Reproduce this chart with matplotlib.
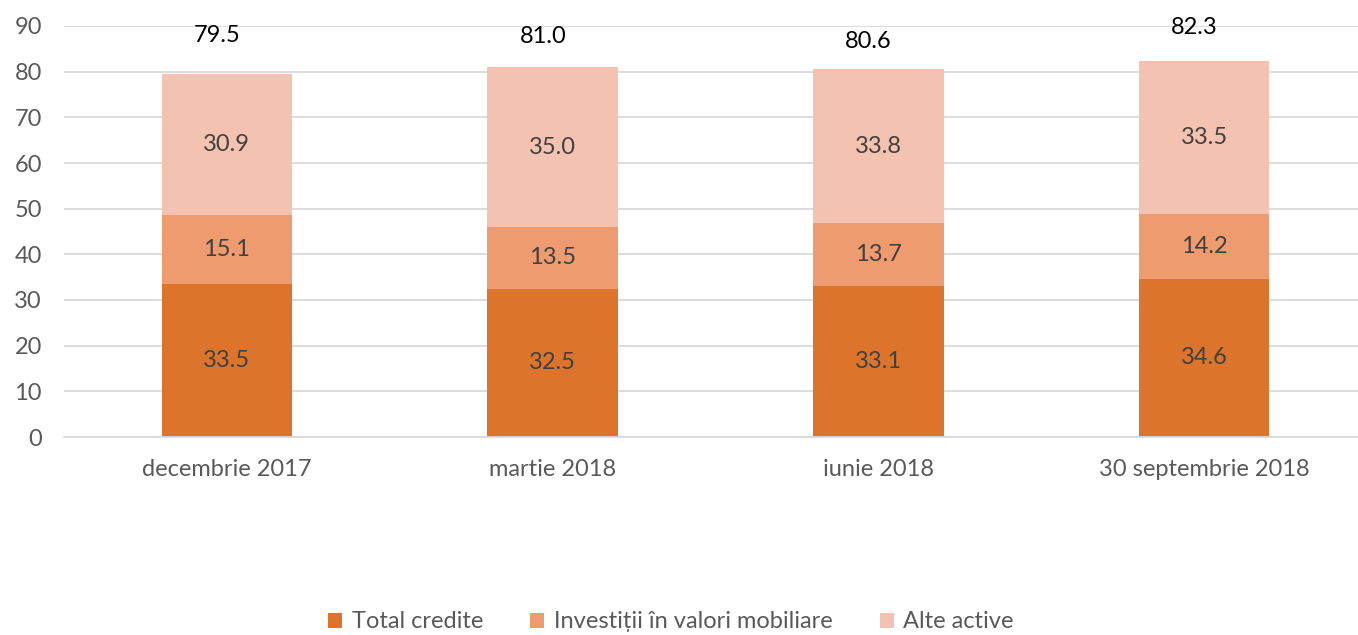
import matplotlib
matplotlib.use("Agg")
import matplotlib.pyplot as plt
from matplotlib.patches import Patch

categories = ["decembrie 2017", "martie 2018", "iunie 2018", "30 septembrie 2018"]
total_credite = [33.5, 32.5, 33.1, 34.6]
investitii = [15.1, 13.5, 13.7, 14.2]
alte_active = [30.9, 35.0, 33.8, 33.5]
totals = [79.5, 81.0, 80.6, 82.3]
total_label_y = [88.0, 87.6, 86.5, 89.6]
series_names = ["Total credite", "Investiții în valori mobiliare", "Alte active"]
colors = ["#DD742C", "#EE9B6F", "#F4C2B0"]

plt.rcParams['font.family'] = ['Lato', 'DejaVu Sans']
FS = 17

fig = plt.figure(figsize=(13.58, 6.35), dpi=100)
W, H = 1358, 635
ax = fig.add_axes([64 / W, (H - 437) / H, (1367 - 64) / W, (437 - 26) / H])

x = list(range(len(categories)))
bottom = [0.0] * len(categories)
for vals, col in zip([total_credite, investitii, alte_active], colors):
    ax.bar(x, vals, width=0.4, bottom=bottom, color=col, zorder=2)
    for xi, v, b in zip(x, vals, bottom):
        ax.text(xi, b + v / 2, f"{v:.1f}", ha="center", va="center",
                fontsize=FS, color="#404040", zorder=3)
    bottom = [b + v for b, v in zip(bottom, vals)]

for xi, t, ly in zip(x, totals, total_label_y):
    ax.text(xi - 0.03, ly, f"{t:.1f}", ha="center", va="center", fontsize=FS,
            color="#000000", zorder=3)

ax.set_xlim(-0.5, 3.5)
ax.set_ylim(0, 90)
ax.set_yticks(range(0, 91, 10))
ax.set_xticks(x)
ax.set_xticklabels(categories)
ax.tick_params(axis="both", length=0, labelsize=FS, colors="#595959")
ax.tick_params(axis="x", pad=16)
ax.tick_params(axis="y", pad=16)
ax.grid(axis="y", color="#D9D9D9", linewidth=1.3, zorder=0)
for s in ["top", "right", "left"]:
    ax.spines[s].set_visible(False)
ax.spines["bottom"].set_color("#D9D9D9")
ax.spines["bottom"].set_linewidth(1.3)

handles = [Patch(facecolor=c, edgecolor="none") for c in colors]
fig.legend(handles, series_names, loc="center", bbox_to_anchor=(671 / W, (H - 622) / H),
           ncol=3, frameon=False, fontsize=FS, labelcolor="#595959",
           handlelength=0.6, handleheight=0.6, handletextpad=0.4, columnspacing=2.0)

fig.savefig("out.png", dpi=100)
